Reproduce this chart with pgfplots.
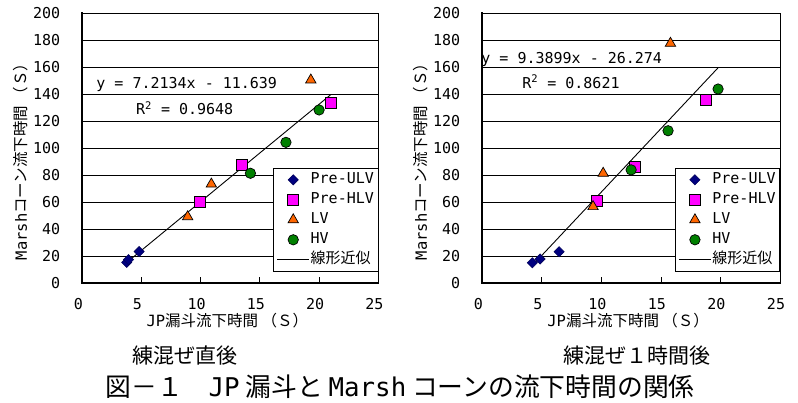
\documentclass[border=0pt]{standalone}
\usepackage{fontspec}
\setmainfont{Noto Sans CJK JP}
\newfontfamily\mono{DejaVu Sans Mono}
\usepackage{pgfplots}
\pgfplotsset{compat=1.18}

\definecolor{ulv}{HTML}{000080}
\definecolor{hlv}{HTML}{FF00FF}
\definecolor{lv}{HTML}{FF6600}
\definecolor{hv}{HTML}{008000}

\newcommand{\fs}[1]{\fontsize{#1}{#1}\selectfont}

\pgfplotsset{
  jpchart/.style={
    height=270pt, scale only axis,
    xmin=0, xmax=25, ymin=0, ymax=200,
    xtick={0,5,...,25}, ytick={0,20,...,200},
    ymajorgrids, grid style={black, line width=0.7pt},
    xtick pos=left, tick align=inside, major tick length=6pt,
    ytick style={draw=none},
    xtick style={black, line width=0.8pt},
    axis line style={line width=0.8pt},
    /pgf/number format/assume math mode=true,
    ticklabel style={font=\mono\fs{15}},
    xticklabel style={inner sep=0pt, anchor=north, yshift=-15pt, xshift=-4pt},
    yticklabel style={inner sep=0pt, anchor=east, xshift=-22pt},
    xlabel={{\mono JP}漏斗流下時間 （Ｓ）},
    ylabel={{\mono Marsh}コーン流下時間 （Ｓ）},
    xlabel style={anchor=center, inner sep=0pt, font=\fs{15.5}},
    ylabel style={anchor=center, inner sep=0pt, font=\fs{15.5}},
    legend image code/.code={%
      \draw[mark repeat=2, mark phase=2, ##1]
        plot coordinates {(0pt,0pt) (16pt,0pt) (32pt,0pt)};},
    legend cell align=left,
    legend style={
      at={(axis description cs:1,0.043)}, anchor=south east,
      draw=black, line width=0.8pt, fill=white,
      inner xsep=3pt, inner ysep=4.5pt, row sep=6pt,
      nodes={inner xsep=1pt, inner ysep=0pt, text height=11pt,
             text depth=3pt, font=\fs{15}},
    },
    after end axis/.code={%
      \draw[line width=2pt, line cap=rect]
        (rel axis cs:0,1) -- (rel axis cs:0,0) -- (rel axis cs:1,0);},
  },
  sULV/.style={only marks, mark=square*, mark size=3.6pt,
    mark options={rotate=45, fill=ulv, draw=ulv!70!black, line width=0.6pt}},
  sHLV/.style={only marks, mark=square*, mark size=5.5pt,
    mark options={fill=hlv, draw=black, line width=0.7pt}},
  sLV/.style={only marks, mark=triangle*, mark size=6pt,
    mark options={fill=lv, draw=black, line width=0.7pt}},
  sHV/.style={only marks, mark=*, mark size=5.2pt,
    mark options={fill=hv, draw=black, line width=0.7pt}},
  sFit/.style={black, line width=0.9pt, no marks},
}

\begin{document}
\begin{tikzpicture}
\useasboundingbox (0,0) rectangle (798pt,403pt);
\fill[white] (0,0) rectangle (798pt,403pt);

% 練混ぜ直後
\begin{axis}[jpchart, width=296pt,
  at={(82.3pt,119.7pt)}, anchor=south west,
  xlabel style={at={(axis description cs:0.49,-0.138)}},
  ylabel style={at={(axis description cs:-0.207,0.464)}}]
\addplot[sULV] coordinates {(3.75,15.5) (3.9,17.5) (4.8,23.5)};
\addlegendentry{{\mono Pre-ULV}}
\addplot[sHLV] coordinates {(9.9,60.4) (13.5,87.6) (21.0,133.3)};
\addlegendentry{{\mono Pre-HLV}}
\addplot[sLV] coordinates {(8.9,49.3) (10.9,73.5) (19.3,150.6)};
\addlegendentry{{\mono LV}}
\addplot[sHV] coordinates {(14.2,81.5) (17.2,104.4) (20.0,128.4)};
\addlegendentry{{\mono HV}}
\addplot[sFit] coordinates {(3.75,15.41) (21.0,139.84)};
\addlegendentry{線形近似}
\node[font=\mono\fs{15}] at (axis cs:8.82,146.9) {y = 7.2134x - 11.639};
\node[font=\mono\fs{15}] at (axis cs:8.65,129.9) {R\textsuperscript{2} = 0.9648};
\end{axis}

% 練混ぜ１時間後
\begin{axis}[jpchart, width=297.7pt,
  at={(482.3pt,119.7pt)}, anchor=south west,
  xlabel style={at={(axis description cs:0.49,-0.138)}},
  ylabel style={at={(axis description cs:-0.206,0.464)}}]
\addplot[sULV] coordinates {(4.2,15.2) (4.85,18.0) (6.45,23.4)};
\addlegendentry{{\mono Pre-ULV}}
\addplot[sHLV] coordinates {(9.6,61.0) (12.85,86.4) (18.8,135.8)};
\addlegendentry{{\mono Pre-HLV}}
\addplot[sLV] coordinates {(9.3,56.8) (10.15,81.5) (15.8,177.8)};
\addlegendentry{{\mono LV}}
\addplot[sHV] coordinates {(12.5,84.0) (15.6,113.0) (19.8,143.9)};
\addlegendentry{{\mono HV}}
\addplot[sFit] coordinates {(4.2,13.16) (19.8,159.65)};
\addlegendentry{線形近似}
\node[font=\mono\fs{15}] at (axis cs:7.51,165.9) {y = 9.3899x - 26.274};
\node[font=\mono\fs{15}] at (axis cs:7.45,149.3) {R\textsuperscript{2} = 0.8621};
\end{axis}

\node at (185pt,47pt) {\fs{21}練混ぜ直後};
\node at (636.5pt,47pt) {\fs{21}練混ぜ１時間後};
\node[inner sep=0pt] at (400pt,16pt) {\fs{25.8}図－１　{\mono JP} 漏斗と {\mono Marsh} コーンの流下時間の関係};
\end{tikzpicture}
\end{document}
